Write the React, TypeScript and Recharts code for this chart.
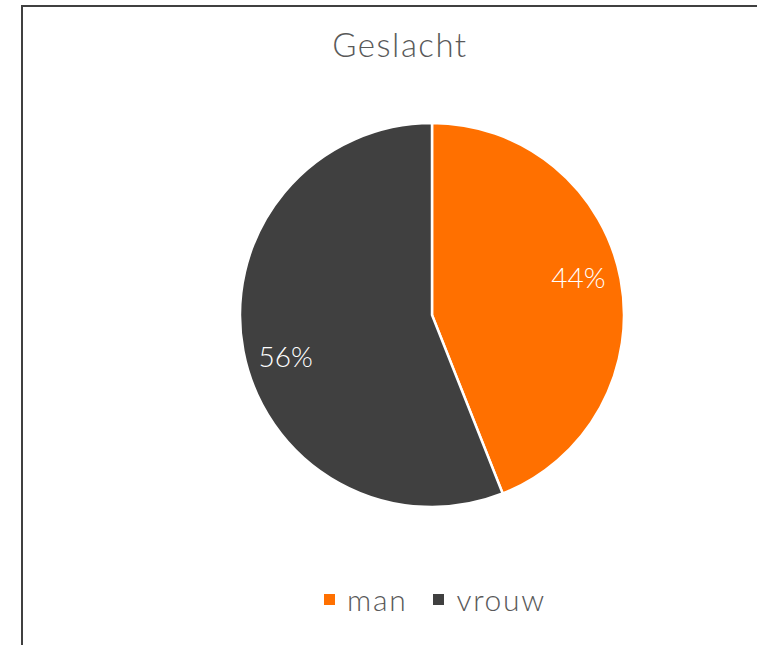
import React from "react";
import { PieChart, Pie, Cell, Legend } from "recharts";

const categories = ["man", "vrouw"];
const values = [44, 56];
const colors = ["#FF7000", "#404040"];

const data = categories.map((name, i) => ({ name, value: values[i] }));
const FONT = "Lato, 'DejaVu Sans', sans-serif";

const RADIAN = Math.PI / 180;
const renderLabel = (props: any) => {
  const { cx, cy, midAngle, outerRadius, percent } = props;
  const r = outerRadius * 0.776;
  const x = cx + r * Math.cos(-midAngle * RADIAN);
  const y = cy + 1.5 + r * 1.42 * Math.sin(-midAngle * RADIAN);
  return (
    <text x={x} y={y} fill="#ffffff" textAnchor="middle" dominantBaseline="central" fontSize={28} fontWeight={300} fontFamily={FONT}>
      {`${Math.round(percent * 100)}%`}
    </text>
  );
};

const renderLegend = (props: any) => {
  const { payload } = props;
  return (
    <div style={{ display: "flex", justifyContent: "center", alignItems: "center", fontFamily: FONT }}>
      {payload.map((entry: any, i: number) => (
        <div key={i} style={{ display: "flex", alignItems: "center", marginRight: i === 0 ? 26 : 0 }}>
          <span style={{ width: 11, height: 11, background: entry.color, display: "inline-block", marginRight: 12 }} />
          <span style={{ fontSize: 30, fontWeight: 300, letterSpacing: 1.7, color: "#595959", lineHeight: "34px" }}>{entry.value}</span>
        </div>
      ))}
    </div>
  );
};

export default function App() {
  return (
    <div style={{ position: "absolute", left: 0, top: 0, width: 757, height: 645, overflow: "hidden", background: "#fff" }}>
      <div style={{ position: "absolute", left: 21, top: 5, width: 800, height: 700, borderLeft: "2px solid #404040", borderTop: "2px solid #404040" }} />
      <div style={{ position: "absolute", left: 0, top: 24, width: 800, textAlign: "center", fontFamily: FONT, fontSize: 33, fontWeight: 300, letterSpacing: 1.5, color: "#595959", lineHeight: "40px" }}>
        Geslacht
      </div>
      <div style={{ position: "absolute", left: 0, top: 0 }}>
        <PieChart width={757} height={645} margin={{ top: 0, right: 0, bottom: 0, left: 0 }}>
          <Pie
            data={data}
            dataKey="value"
            nameKey="name"
            cx={432}
            cy={315}
            outerRadius={192}
            startAngle={90}
            endAngle={-270}
            stroke="#ffffff"
            strokeWidth={2.5}
            label={renderLabel}
            labelLine={false}
            isAnimationActive={false}
          >
            {data.map((d, i) => (
              <Cell key={d.name} fill={colors[i]} />
            ))}
          </Pie>
          <Legend
            content={renderLegend}
            wrapperStyle={{ position: "absolute", left: 0, top: 582, width: 870 }}
          />
        </PieChart>
      </div>
    </div>
  );
}
